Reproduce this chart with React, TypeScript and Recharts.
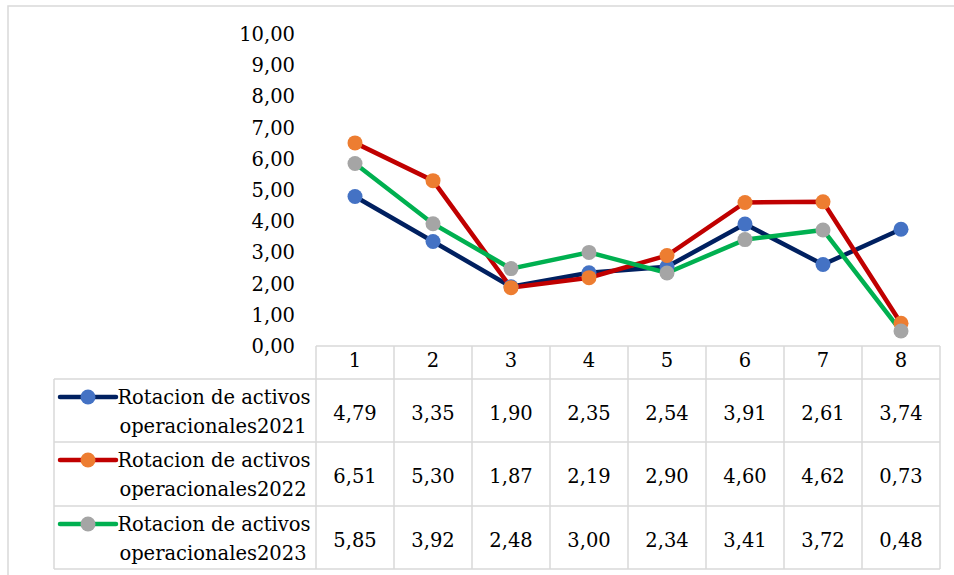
import React from 'react';
import { LineChart, Line, XAxis, YAxis } from 'recharts';

const categories = ['1', '2', '3', '4', '5', '6', '7', '8'];
const values2021 = [4.79, 3.35, 1.9, 2.35, 2.54, 3.91, 2.61, 3.74];
const values2022 = [6.51, 5.3, 1.87, 2.19, 2.9, 4.6, 4.62, 0.73];
const values2023 = [5.85, 3.92, 2.48, 3.0, 2.34, 3.41, 3.72, 0.48];
const seriesLabels = [
  ['Rotacion de activos', 'operacionales2021'],
  ['Rotacion de activos', 'operacionales2022'],
  ['Rotacion de activos', 'operacionales2023'],
];
const yTicks = [0, 1, 2, 3, 4, 5, 6, 7, 8, 9, 10];

const series = [
  { key: 's2021', values: values2021, line: '#002060', marker: '#4472C4', label: seriesLabels[0] },
  { key: 's2022', values: values2022, line: '#C00000', marker: '#ED7D31', label: seriesLabels[1] },
  { key: 's2023', values: values2023, line: '#00B050', marker: '#A5A5A5', label: seriesLabels[2] },
];

const data = categories.map((c, i) => {
  const row: any = { cat: c };
  series.forEach((s) => (row[s.key] = s.values[i]));
  return row;
});

const W = 954;
const H = 575;
const PLOT_LEFT = 316;
const PLOT_RIGHT = 940;
const PLOT_TOP = 34;
const PLOT_BOTTOM = 346;
const X_AXIS_H = 33;
const Y_AXIS_W = 60;
const TABLE_LEFT = 54;
const ROW_TOPS = [379, 442, 506, 569];
const FONT = 'DejaVu Serif';
const FS = 19.5;
const GRID = '#d9d9d9';
const textStyle = { fontFamily: FONT, fontSize: FS };

const fmt = (v: number) => v.toFixed(2).replace('.', ',');

function TableOverlay() {
  const colW = (PLOT_RIGHT - PLOT_LEFT) / categories.length;
  const lines: any[] = [];
  lines.push(<line key="ht" x1={PLOT_LEFT} x2={PLOT_RIGHT} y1={PLOT_BOTTOM} y2={PLOT_BOTTOM} />);
  for (let i = 0; i <= categories.length; i++) {
    const x = PLOT_LEFT + i * colW;
    lines.push(<line key={'v' + i} x1={x} x2={x} y1={PLOT_BOTTOM} y2={ROW_TOPS[ROW_TOPS.length - 1]} />);
  }
  ROW_TOPS.forEach((y, i) => {
    lines.push(<line key={'h' + i} x1={TABLE_LEFT} x2={PLOT_RIGHT} y1={y} y2={y} />);
  });
  lines.push(<line key="lv" x1={TABLE_LEFT} x2={TABLE_LEFT} y1={ROW_TOPS[0]} y2={ROW_TOPS[ROW_TOPS.length - 1]} />);

  return (
    <svg
      width={W}
      height={H}
      style={{ position: 'absolute', left: 0, top: 0, pointerEvents: 'none' }}
    >
      <rect x={8} y={6} width={W + 10} height={H + 10} fill="none" stroke={GRID} strokeWidth={1.5} />
      <g stroke={GRID} strokeWidth={1.5}>{lines}</g>
      {series.map((s, r) => {
        const top = ROW_TOPS[r];
        return (
          <g key={s.key}>
            <line x1={60} x2={116} y1={top + 18} y2={top + 18} stroke={s.line} strokeWidth={4.5} strokeLinecap="round" />
            <circle cx={88} cy={top + 18} r={7.5} fill={s.marker} />
            <text x={214} y={top + 25} textAnchor="middle" style={textStyle} fill="#000">
              {s.label[0]}
            </text>
            <text x={213} y={top + 54} textAnchor="middle" style={textStyle} fill="#000">
              {s.label[1]}
            </text>
            {s.values.map((v, i) => (
              <text
                key={i}
                x={PLOT_LEFT + (i + 0.5) * colW}
                y={top + 41}
                textAnchor="middle"
                style={textStyle}
                fill="#000"
              >
                {fmt(v)}
              </text>
            ))}
          </g>
        );
      })}
    </svg>
  );
}

export default function App() {
  return (
    <div style={{ position: 'absolute', left: 0, top: 0, width: W, height: H, background: '#fff', fontFamily: FONT }}>
      <LineChart
        width={W}
        height={H}
        data={data}
        style={{ fontFamily: FONT }}
        margin={{
          top: PLOT_TOP,
          right: W - PLOT_RIGHT,
          bottom: H - PLOT_BOTTOM - X_AXIS_H,
          left: PLOT_LEFT - Y_AXIS_W,
        }}
      >
        <XAxis
          dataKey="cat"
          scale="band"
          height={X_AXIS_H}
          axisLine={false}
          tickLine={false}
          tickSize={0}
          tickMargin={7}
          interval={0}
          tick={{ style: textStyle, fontSize: FS, fill: '#000' }}
        />
        <YAxis
          domain={[0, 10]}
          ticks={yTicks}
          width={Y_AXIS_W}
          axisLine={false}
          tickLine={false}
          tickSize={0}
          tickMargin={21}
          interval={0}
          tickFormatter={fmt}
          tick={{ style: textStyle, fontSize: FS, fill: '#000' }}
        />
        {series.map((s) => (
          <Line
            key={s.key}
            dataKey={s.key}
            type="linear"
            stroke={s.line}
            strokeWidth={4.5}
            dot={{ r: 7.5, fill: s.marker, stroke: 'none', strokeWidth: 0 }}
            activeDot={false}
            isAnimationActive={false}
          />
        ))}
      </LineChart>
      <TableOverlay />
    </div>
  );
}
